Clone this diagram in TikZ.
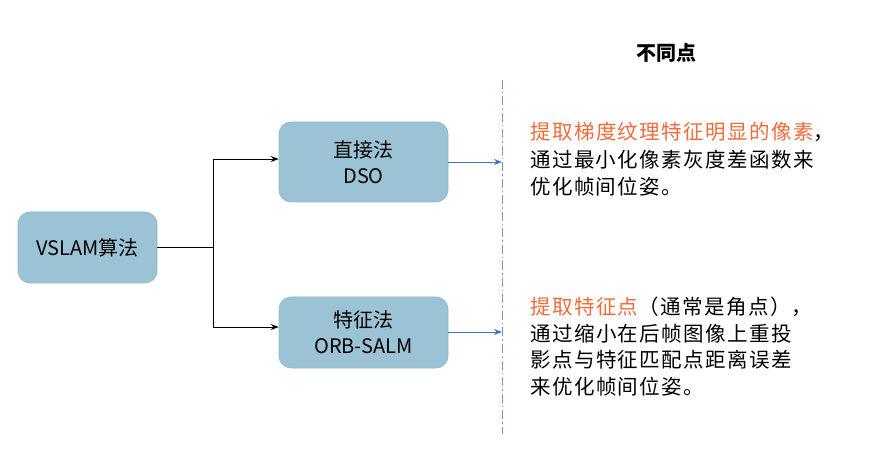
\documentclass[tikz,border=0pt]{standalone}
\usepackage{fontspec}
\setmainfont{Noto Sans CJK SC}
\newfontfamily\cjkls[LetterSpace=7]{Noto Sans CJK SC}
\usetikzlibrary{arrows.meta}
\definecolor{boxfill}{HTML}{9CC3D5}
\definecolor{boxline}{HTML}{8DB7CB}
\definecolor{orangetxt}{HTML}{F26B3A}
\definecolor{bluearr}{HTML}{4472C4}
\definecolor{dashblue}{HTML}{7597D6}
\tikzset{
  algbox/.style={draw=boxline, line width=0.6pt, fill=boxfill, rounded corners=12pt, align=center, font=\fontsize{20}{26}\selectfont, inner sep=0pt},
  blackarr/.style={-{Stealth[length=8pt,width=6pt]}, line width=0.8pt, black},
  bluearrow/.style={-{Stealth[length=8pt,width=6pt]}, line width=0.8pt, bluearr},
  desc/.style={anchor=base west, align=left, inner sep=0pt}
}
\begin{document}
\begin{tikzpicture}[x=1pt,y=-1pt]
\useasboundingbox (0,0) rectangle (873,462);
\node[algbox, minimum width=139pt, minimum height=71pt] (v) at (87.5,247.5) {VSLAM算法};
\node[algbox, minimum width=169pt, minimum height=80pt] (d) at (363.5,162) {直接法\\DSO};
\node[algbox, minimum width=169pt, minimum height=71pt] (f) at (363.5,332.5) {特征法\\ORB-SALM};
\coordinate (j) at (213,247.5);
\draw[line width=0.8pt] (v.east) -- (j);
\draw[blackarr] (j) |- ([yshift=3pt]d.west);
\draw[blackarr] (j) |- ([yshift=5.5pt]f.west);
\coordinate (ltop) at (502,80);
\coordinate (lbot) at (502,434);
\draw[dashblue, line width=0.7pt, dash pattern=on 9pt off 3pt on 1.5pt off 3pt] (ltop) -- (lbot);
\coordinate (e1) at (502,162);
\coordinate (e2) at (502,332);
\draw[bluearrow] (d.east |- e1) -- (e1);
\draw[bluearrow] (f.east |- e2) -- (e2);
\node[font=\bfseries\fontsize{20}{24}\selectfont, inner sep=0pt] (t) at (666,53) {不同点};
\node[desc, font=\cjkls\fontsize{20.5}{27.5}\selectfont] (b1) at (530,195) {\textcolor{orangetxt}{提取梯度纹理特征明显的像素}，\\通过最小化像素灰度差函数来\\优化帧间位姿。};
\node[desc, font=\cjkls\fontsize{20.5}{26.4}\selectfont] (b2) at (530,394) {\textcolor{orangetxt}{提取特征点}（通常是角点），\\通过缩小在后帧图像上重投\\影点与特征匹配点距离误差\\来优化帧间位姿。};
\end{tikzpicture}
\end{document}
